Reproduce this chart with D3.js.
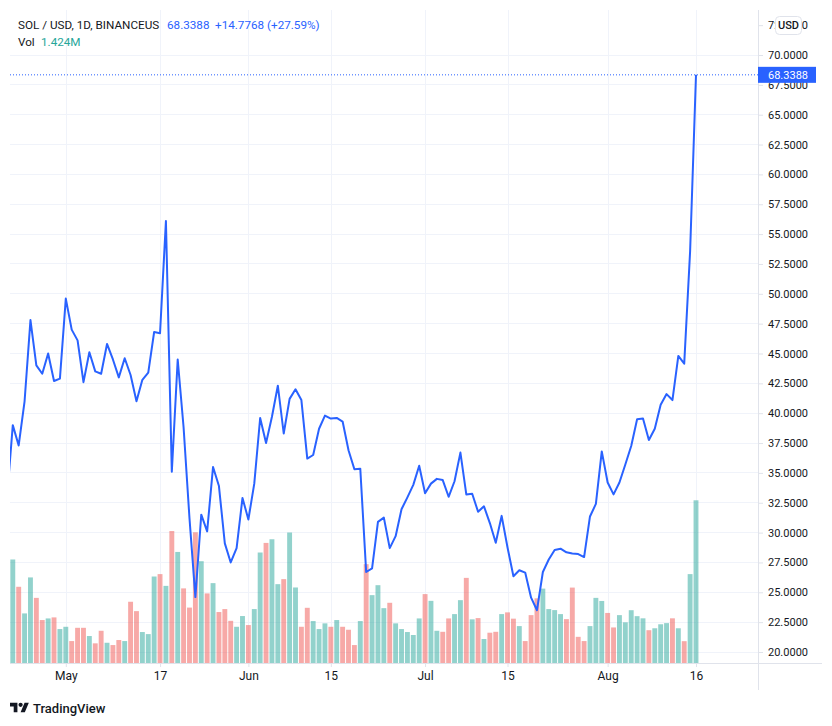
<!DOCTYPE html>
<html><head><meta charset="utf-8">
<script src="https://cdn.jsdelivr.net/npm/d3@7"></script>
<style>
body{margin:0;background:#fff}
svg{display:block}
text{font-family:Roboto,"DejaVu Sans",sans-serif}
</style>
</head><body>
<svg id="c" width="832" height="726"></svg>
<script>
// ---------- DATA ----------
const symbolLabel = "SOL / USD, 1D, BINANCEUS";
const volLabel = "Vol";
const startDate = "2021-04-21";
// daily closes, Apr 21 .. Aug 16
const closes = [
  32.8, 39.0, 37.3, 41.0, 47.8, 44.0, 43.3, 45.0, 42.7, 42.9,
  49.6, 47.0, 46.1, 42.6, 45.1, 43.5, 43.3, 45.8, 44.5, 43.0,
  44.6, 43.2, 41.0, 42.8, 43.4, 46.8, 46.7, 56.1, 35.1, 44.5,
  38.8, 31.2, 24.6, 31.5, 30.1, 35.5, 33.9, 29.1, 27.5, 28.7, 32.9,
  31.1, 34.1, 39.6, 37.5, 39.7, 42.3, 38.3, 41.2, 42.0, 41.1,
  36.2, 36.5, 38.7, 39.8, 39.55, 39.6, 39.3, 36.9, 35.3, 35.35,
  26.7, 27.0, 30.9, 31.25, 28.7, 29.7, 31.95, 32.95, 34.0, 35.6,
  33.3, 34.1, 34.5, 34.4, 33.0, 34.3, 36.7, 33.2, 33.25, 31.75,
  32.2, 30.8, 29.15, 31.4, 28.75, 26.35, 26.85, 26.65, 24.55, 23.5,
  26.7, 27.75, 28.55, 28.65, 28.35, 28.25, 28.2, 27.95, 31.35, 32.4, 36.8,
  34.2, 33.2, 34.2, 35.7, 37.25, 39.5, 39.55, 37.75, 38.7, 40.7,
  41.6, 41.1, 44.8, 44.15, 53.562, 68.3388
];
// daily volume, millions
const volumes = [
  0.90, 0.906, 0.667, 0.434, 0.749, 0.570, 0.376, 0.390, 0.399, 0.297,
  0.317, 0.192, 0.308, 0.308, 0.236, 0.172, 0.282, 0.177, 0.157, 0.201,
  0.192, 0.536, 0.454, 0.271, 0.253, 0.757, 0.778, 0.675, 1.155, 0.972,
  0.653, 0.485, 1.144, 0.891, 0.609, 0.699, 0.446, 0.472, 0.369, 0.317, 0.411,
  0.332, 0.472, 0.967, 1.051, 1.083, 0.690, 0.734, 1.142, 0.661, 0.317,
  0.483, 0.367, 0.297, 0.347, 0.317, 0.376, 0.317, 0.291, 0.157, 0.367,
  0.865, 0.594, 0.681, 0.480, 0.527, 0.347, 0.297, 0.271, 0.245, 0.390,
  0.603, 0.544, 0.282, 0.273, 0.390, 0.428, 0.550, 0.745, 0.382, 0.393,
  0.210, 0.265, 0.273, 0.428, 0.443, 0.388, 0.323, 0.192, 0.419, 0.566,
  0.651, 0.472, 0.463, 0.428, 0.384, 0.660, 0.229, 0.192, 0.323, 0.570, 0.543,
  0.438, 0.311, 0.419, 0.356, 0.462, 0.410, 0.391, 0.287, 0.304, 0.339,
  0.349, 0.391, 0.304, 0.191, 0.778, 1.424
];
const priceTicks = [20, 22.5, 25, 27.5, 30, 32.5, 35, 37.5, 40, 42.5, 45, 47.5, 50,
  52.5, 55, 57.5, 60, 62.5, 65, 67.5, 70, 72.5];
const timeTickDates = ["2021-05-01","2021-05-17","2021-06-01","2021-06-15","2021-07-01","2021-07-15","2021-08-01","2021-08-16"];
const timeTickLabels = ["May","17","Jun","15","Jul","15","Aug","16"];

// ---------- BUILD ----------
const parse = d3.utcParse("%Y-%m-%d");
const t0 = parse(startDate);
const rows = closes.map((c, i) => ({
  date: d3.utcDay.offset(t0, i),
  close: c,
  vol: volumes[i],
  up: i === 0 ? true : c >= closes[i - 1]
}));
const ticks = timeTickDates.map((d, i) => ({date: parse(d), label: timeTickLabels[i]}));

const L = 10, R = 758, T = 10, B = 663;
const svg = d3.select("#c");
const x = d3.scaleUtc().domain([parse("2021-05-01"), parse("2021-08-16")]).range([65.8, 696]);
const y = d3.scaleLinear().domain([20, 70]).range([652, 55]);
const vy = d3.scaleLinear().domain([0, d3.max(volumes)]).range([B, 500.3]);

const gridC = "#f0f3fa", borderC = "#e0e3eb", textC = "#131722", blue = "#2962FF";

svg.append("defs").append("clipPath").attr("id", "plot")
  .append("rect").attr("x", L).attr("y", T).attr("width", R - L).attr("height", B - T);

// grid
const grid = svg.append("g");
grid.selectAll(".hg").data(priceTicks.filter(v => y(v) > T + 30)).join("line")
  .attr("x1", L).attr("x2", R).attr("y1", d => y(d)).attr("y2", d => y(d))
  .attr("stroke", gridC).attr("stroke-width", 1).attr("shape-rendering", "crispEdges");
grid.selectAll(".vg").data(ticks).join("line")
  .attr("x1", d => Math.round(x(d.date)) + 0.5).attr("x2", d => Math.round(x(d.date)) + 0.5)
  .attr("y1", T).attr("y2", B)
  .attr("stroke", gridC).attr("stroke-width", 1);

const plot = svg.append("g").attr("clip-path", "url(#plot)");
const step = x(parse("2021-05-02")) - x(parse("2021-05-01"));
const bw = step - 1;
plot.selectAll(".bar").data(rows).join("rect")
  .attr("x", d => x(d.date) - bw / 2).attr("width", bw)
  .attr("y", d => vy(d.vol)).attr("height", d => B - vy(d.vol))
  .attr("fill", d => d.up ? "rgba(38,166,154,0.5)" : "rgba(239,83,80,0.5)");

plot.append("path").datum(rows)
  .attr("d", d3.line().x(d => x(d.date)).y(d => y(d.close)))
  .attr("fill", "none").attr("stroke", blue).attr("stroke-width", 2)
  .attr("stroke-linejoin", "round");

const last = rows[rows.length - 1], prev = rows[rows.length - 2];
const yl = y(last.close);
svg.append("line").attr("x1", L).attr("x2", R).attr("y1", yl).attr("y2", yl)
  .attr("stroke", blue).attr("stroke-width", 1).attr("stroke-dasharray", "1,2");

// borders
svg.append("line").attr("x1", L).attr("x2", 822).attr("y1", B + 0.5).attr("y2", B + 0.5)
  .attr("stroke", borderC);
svg.append("line").attr("x1", R + 0.5).attr("x2", R + 0.5).attr("y1", T).attr("y2", 690)
  .attr("stroke", borderC);

// price axis
const ya = svg.append("g").attr("transform", `translate(${R},0)`)
  .call(d3.axisRight(y).tickValues(priceTicks).tickFormat(d3.format(".4f")).tickSize(5).tickPadding(5));
ya.select(".domain").remove();
ya.selectAll(".tick line").attr("stroke", borderC);
ya.selectAll(".tick text").attr("fill", textC).attr("font-size", 11)
  .attr("font-family", 'Roboto,"DejaVu Sans",sans-serif');

// time axis
const xa = svg.append("g").attr("transform", `translate(0,${B})`)
  .call(d3.axisBottom(x).tickValues(ticks.map(d => d.date))
    .tickFormat((d, i) => ticks[i].label).tickSize(4).tickPadding(4));
xa.select(".domain").remove();
xa.selectAll(".tick line").attr("stroke", borderC);
xa.selectAll(".tick text").attr("fill", textC).attr("font-size", 12)
  .attr("font-family", 'Roboto,"DejaVu Sans",sans-serif');

// last price label
svg.append("rect").attr("x", R).attr("y", yl - 8).attr("width", 58).attr("height", 16).attr("fill", blue);
svg.append("text").attr("x", 768).attr("y", yl).attr("dy", "0.35em")
  .attr("fill", "#fff").attr("font-size", 11).text(d3.format(".4f")(last.close));

// USD button
svg.append("rect").attr("x", 775.5).attr("y", 16.5).attr("width", 26).attr("height", 18).attr("rx", 4)
  .attr("fill", "#fff").attr("stroke", borderC);
svg.append("text").attr("x", 788.5).attr("y", 25.5).attr("dy", "0.35em").attr("text-anchor", "middle")
  .attr("fill", textC).attr("font-size", 11).attr("font-weight", 500).text("USD");

// legend
const chg = last.close - prev.close;
const pct = chg / prev.close * 100;
svg.append("text").attr("x", 18).attr("y", 25).attr("dy", "0.35em").attr("font-size", 11.7)
  .attr("fill", textC).text(symbolLabel);
svg.append("text").attr("x", 167).attr("y", 25).attr("dy", "0.35em").attr("font-size", 11.7)
  .attr("fill", blue).text(d3.format(".4f")(last.close));
svg.append("text").attr("x", 215).attr("y", 25).attr("dy", "0.35em").attr("font-size", 11.7)
  .attr("fill", blue).text(`${d3.format("+.4f")(chg)} (${d3.format("+.2f")(pct)}%)`);
svg.append("text").attr("x", 18).attr("y", 42).attr("dy", "0.35em").attr("font-size", 11.7)
  .attr("fill", textC).text(volLabel);
svg.append("text").attr("x", 41).attr("y", 42).attr("dy", "0.35em").attr("font-size", 11.7)
  .attr("fill", "#26a69a").text(d3.format(".3f")(last.vol) + "M");

// TradingView logo
const logo = svg.append("g").attr("transform", "translate(10,700.6) scale(0.53)").attr("fill", textC);
logo.append("path").attr("d", "M14 22H7V11H0V4h14v18zM28 22h-8l7.5-18h8L28 22z");
logo.append("circle").attr("cx", 20).attr("cy", 8).attr("r", 4);
svg.append("text").attr("x", 33).attr("y", 708).attr("dy", "0.35em").attr("font-size", 13)
  .attr("font-weight", 500).attr("fill", textC).text("TradingView");
</script>
</body></html>
